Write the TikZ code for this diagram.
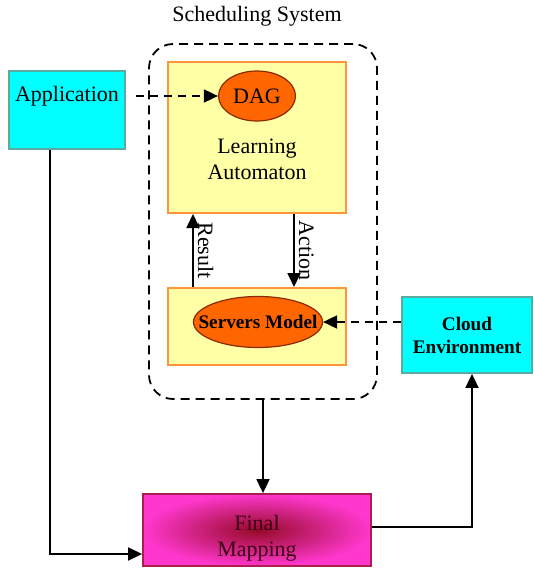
\documentclass[tikz,border=0pt]{standalone}
\usepackage{fontspec}
\setmainfont{Liberation Serif}
\usetikzlibrary{arrows.meta,shapes.geometric}

\definecolor{appcyan}{RGB}{0,255,255}
\definecolor{cyanedge}{RGB}{90,170,160}
\definecolor{layellow}{RGB}{255,255,165}
\definecolor{laedge}{RGB}{255,150,60}
\definecolor{blob}{RGB}{255,102,0}
\definecolor{blobedge}{RGB}{140,40,0}
\definecolor{fmpink}{RGB}{255,55,205}
\definecolor{fmdark}{RGB}{150,10,40}
\definecolor{fmedge}{RGB}{170,30,80}
\definecolor{fmtext}{RGB}{60,0,20}

\begin{document}
\begin{tikzpicture} [x = 0.5pt, y = -0.5pt, font = \fontsize{11}{13}\selectfont,
			tip/.style = {-{Triangle[length = 7pt, width = 6.5pt]}},
			flow/.style = {line width = 0.9pt, tip},
			dashflow/.style = {flow, dash pattern = on 4pt off 3pt},
			cyanbox/.style = {draw = cyanedge, fill = appcyan, line width = 0.9pt},
			yellowbox/.style = {draw = laedge, fill = layellow, line width = 1pt, minimum width = 89pt},
			orangeblob/.style = {ellipse, draw = blobedge, fill = blob, line width = 0.6pt, inner sep = 0pt},
			boldtext/.style = {font = \fontsize{9.6}{11.5}\selectfont\bfseries}]
			\useasboundingbox (0,0) rectangle (533,568);
			
			\node (title) at (257,16) {Scheduling System};
			\node [draw, line width = 0.9pt, dash pattern = on 4.5pt off 3pt, rounded corners = 12pt, minimum width = 114pt, minimum height = 177.5pt] (sys) at (263,221.5) {};
			
			% learning automaton with the DAG
			\node [yellowbox, minimum height = 75.5pt] (la) at (257,137.5) {};
			\node [orangeblob, minimum width = 38.5pt, minimum height = 25pt] (dag) at (257,96) {DAG};
			\node [align = center] (latext) at (257,159) {Learning\\Automaton};
			
			% servers model
			\node [yellowbox, minimum height = 38.5pt] (sm) at (257,326.5) {};
			\node [orangeblob, minimum width = 64.5pt, minimum height = 25.5pt] (servers) at (258,322) {};
			\node [boldtext] (serverstext) at (servers) {Servers Model};
			
			\node [cyanbox, minimum width = 57pt, minimum height = 39pt, inner sep = 3pt, text height = 12pt, text depth = 21pt] (app) at (67,110) {Application};
			\node [cyanbox, boldtext, align = center, minimum width = 65pt, minimum height = 38pt] (cloud) at (467,335) {Cloud\\Environment};
			
			\node [draw = fmedge, line width = 0.9pt, inner color = fmdark, outer color = fmpink, minimum width = 114pt, minimum height = 36pt] (final) at (257,530) {};
			\node [align = center, text = fmtext] (finaltext) at (257,538) {Final\\Mapping};
			
			\draw [dashflow, shorten < = 5pt] (app.east |- dag.west) to (dag.west);
			\draw [dashflow] (cloud.west |- servers.east) to (servers.east);
			
			\draw [flow] ([xshift = 13pt]sm.north west) to node [midway, rotate = -90, anchor = south, inner sep = 2pt] (result) {Result} ([xshift = 13pt]la.south west);
			\draw [flow] ([xshift = 63.5pt]la.south west) to node [midway, rotate = -90, anchor = south, inner sep = 2pt] (action) {Action} ([xshift = 63.5pt]sm.north west);
			
			\draw [flow] (sys.south) to (sys.south |- final.north);
			\draw [flow] ([xshift = 21pt]app.south west) |- ([yshift = -12pt]final.west);
			\draw [flow] ([yshift = 1.5pt]final.east) -| ([xshift = 2.5pt]cloud.south);
		\end{tikzpicture}
\end{document}
